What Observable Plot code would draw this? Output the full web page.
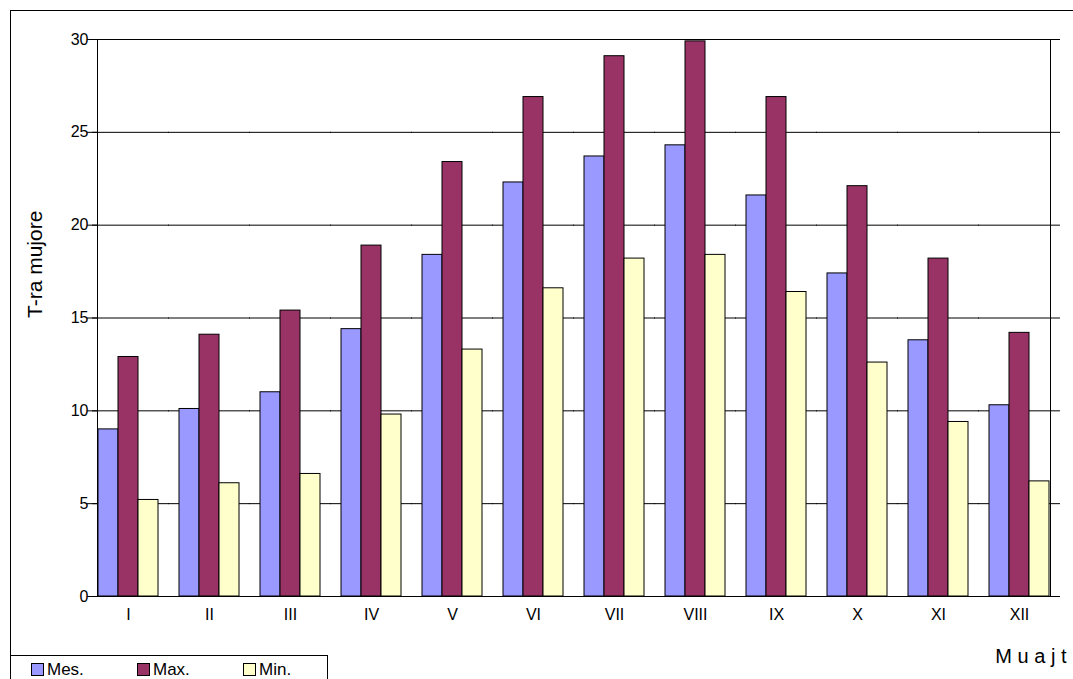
<!DOCTYPE html>
<html><head><meta charset="utf-8">
<script src="https://cdn.jsdelivr.net/npm/d3@7"></script>
<script src="https://cdn.jsdelivr.net/npm/@observablehq/plot@0.6"></script>
<style>
body{margin:0;background:#fff;font-family:Arial,"Liberation Sans",sans-serif}
#wrap{position:relative;width:1073px;height:679px;overflow:hidden}
#box{position:absolute;left:10px;top:10px;width:1080px;height:700px;border:1px solid #000}
#legend{position:absolute;left:10px;top:655px;width:316px;height:30px;border:1px solid #000;background:#fff;font-size:17px}
#legend span{position:absolute;top:4px}
#legend i{display:inline-block;width:11px;height:11px;border:1px solid #000;margin-right:3px;vertical-align:-1px}
</style></head><body>
<div id="wrap"><div id="box"></div><div id="chart" style="position:absolute;left:0;top:0"></div>
<div id="legend">
<span style="left:20px"><i style="background:#9999ff"></i>Mes.</span>
<span style="left:126px"><i style="background:#993366"></i>Max.</span>
<span style="left:232px"><i style="background:#ffffcc"></i>Min.</span>
</div></div>
<script>
const muajt = ['I','II','III','IV','V','VI','VII','VIII','IX','X','XI','XII'];
const seri = ['Mes.','Max.','Min.'];
const mes = [9.0,10.1,11.0,14.4,18.4,22.3,23.7,24.3,21.6,17.4,13.8,10.3];
const max = [12.9,14.1,15.4,18.9,23.4,26.9,29.1,29.9,26.9,22.1,18.2,14.2];
const min = [5.2,6.1,6.6,9.8,13.3,16.6,18.2,18.4,16.4,12.6,9.4,6.2];

const data = [];
muajt.forEach((m, i) => {
  data.push({muaj: m, seri: 'Mes.', v: mes[i]});
  data.push({muaj: m, seri: 'Max.', v: max[i]});
  data.push({muaj: m, seri: 'Min.', v: min[i]});
});

const chart = Plot.plot({
  width: 1073, height: 679,
  marginLeft: 88, marginRight: 13, marginTop: 39, marginBottom: 83,
  style: {fontFamily: 'Arial, "Liberation Sans", sans-serif', fontSize: '16px', background: 'none'},
  fx: {domain: muajt, paddingInner: 0.23, paddingOuter: 0.115, label: null, tickSize: 0, tickPadding: 12},
  x: {domain: seri, padding: 0, axis: null},
  y: {domain: [0, 30], ticks: 6, grid: false, label: null},
  color: {domain: seri, range: ['#9999ff', '#993366', '#ffffcc']},
  marks: [
    Plot.gridY({ticks: 6, stroke: '#000', strokeOpacity: 1, insetLeft: -10, insetRight: -10}),
    Plot.frame({stroke: '#000', facet: 'super'}),
    Plot.barY(data, {fx: 'muaj', x: 'seri', y: 'v', fill: 'seri', stroke: '#000', strokeWidth: 1}),
    Plot.axisY({ticks: 6, tickSize: 5, fontSize: 16, label: null}),
    Plot.text(['T-ra mujore'], {frameAnchor: 'left', dx: -62, rotate: -90, fontSize: 21, facet: 'super'}),
    Plot.text(['M u a j t'], {frameAnchor: 'bottom-right', dy: 66, dx: 16, textAnchor: 'end', fontSize: 20, facet: 'super'})
  ]
});
document.getElementById('chart').append(chart);
</script></body></html>
